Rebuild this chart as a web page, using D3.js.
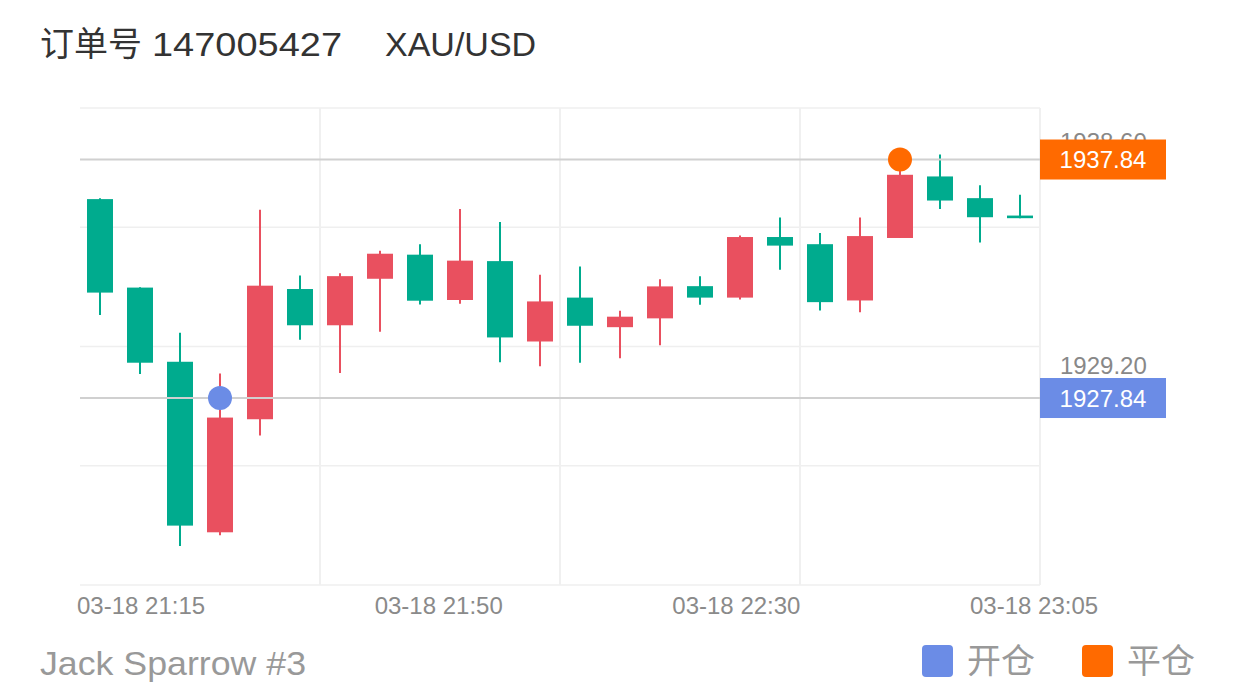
<!DOCTYPE html>
<html>
<head>
<meta charset="utf-8">
<script src="https://cdn.jsdelivr.net/npm/d3@7/dist/d3.min.js"></script>
<style>
  html, body { margin: 0; padding: 0; background: #fff; }
  svg { display: block; font-family: "Liberation Sans", Arial, "Noto Sans CJK SC", sans-serif; }
</style>
</head>
<body>
<svg id="chart" width="1240" height="700"></svg>
<script>
// ---- data ----
const times = ["21:15","21:20","21:25","21:30","21:35","21:40","21:45","21:50","21:55","22:00","22:05","22:10",
               "22:15","22:20","22:25","22:30","22:35","22:40","22:45","22:50","22:55","23:00","23:05","23:10"];
const opens  = [1936.18,1932.47,1929.36,1922.21,1926.95,1932.41,1930.89,1932.84,1933.85,1931.95,1933.58,1930.21,
                1932.05,1930.81,1931.18,1932.53,1932.05,1934.59,1934.29,1931.93,1934.55,1937.13,1936.22,1935.49];
const closes = [1932.26,1929.32,1922.49,1927.02,1932.55,1930.89,1932.95,1933.89,1931.92,1933.60,1930.38,1931.89,
                1930.87,1931.25,1932.52,1932.05,1934.59,1934.23,1931.86,1934.63,1937.20,1936.12,1935.42,1935.38];
const highs  = [1936.22,1932.48,1930.58,1928.87,1935.73,1932.98,1933.07,1934.01,1934.29,1935.76,1935.22,1933.01,
                1933.35,1931.50,1932.82,1932.95,1934.65,1935.41,1934.76,1935.41,1937.84,1938.05,1936.76,1936.36];
const lows   = [1931.32,1928.85,1921.64,1922.09,1926.27,1930.28,1928.89,1930.62,1931.76,1931.79,1929.34,1929.17,
                1929.32,1929.51,1930.05,1931.75,1931.97,1933.22,1931.51,1931.44,1934.55,1935.76,1934.36,1935.38];
const gridValues = [1920, 1925, 1930, 1935, 1940];
const yAxisLabels = [1929.20, 1938.60];
const xTickLabels = ["03-18 21:15", "03-18 21:50", "03-18 22:30", "03-18 23:05"];
const openTrade  = { time: "21:30", price: 1927.84, label: "开仓" };
const closeTrade = { time: "22:55", price: 1937.84, label: "平仓" };
const title = ["订单号", "147005427", "XAU/USD"];
const footer = "Jack Sparrow #3";

const candles = times.map((t, i) => ({ t, o: opens[i], c: closes[i], h: highs[i], l: lows[i] }));

// ---- style ----
const UP = "#e9505f", DOWN = "#00ab8e";
const BLUE = "#6b8ce6", ORANGE = "#ff6a00";

const svg = d3.select("#chart");

const x = d3.scaleBand().domain(times).range([80, 1040]).paddingInner(0.35).paddingOuter(0.175);
const y = d3.scaleLinear().domain([1920, 1940]).range([585, 108]);
const cx = t => x(t) + x.bandwidth() / 2;
const gap = (x.step() - x.bandwidth()) / 2;

// horizontal grid
svg.append("g").selectAll("line").data(gridValues).join("line")
  .attr("x1", 80).attr("x2", 1040)
  .attr("y1", d => y(d)).attr("y2", d => y(d))
  .attr("stroke", "#efefef").attr("stroke-width", 1.5);

// vertical grid at every 6th band boundary plus right edge
const vIdx = [6, 12, 18];
const vPos = vIdx.map(i => x(times[i]) - gap).concat([x.range()[1]]);
svg.append("g").selectAll("line").data(vPos).join("line")
  .attr("x1", d => d).attr("x2", d => d)
  .attr("y1", y(1940)).attr("y2", y(1920))
  .attr("stroke", "#f0f0f0").attr("stroke-width", 2);

// candles
const cg = svg.append("g").selectAll("g").data(candles).join("g");
cg.append("line")
  .attr("x1", d => cx(d.t)).attr("x2", d => cx(d.t))
  .attr("y1", d => y(d.h)).attr("y2", d => y(d.l))
  .attr("stroke", d => d.c >= d.o ? UP : DOWN).attr("stroke-width", 2);
cg.append("rect")
  .attr("x", d => x(d.t)).attr("width", x.bandwidth())
  .attr("y", d => y(Math.max(d.o, d.c)))
  .attr("height", d => Math.max(1.5, Math.abs(y(d.o) - y(d.c))))
  .attr("fill", d => d.c >= d.o ? UP : DOWN);

// y labels (gray); the upper one sits partly behind the close-price tag, as in the reference
svg.append("g").selectAll("text").data(yAxisLabels).join("text")
  .attr("x", 1060).attr("y", d => y(d)).attr("dy", "0.36em")
  .attr("font-size", 24).attr("fill", "#888")
  .text(d => d.toFixed(2));

// trade lines, markers and price tags
[openTrade, closeTrade].forEach((tr, i) => {
  const col = i === 0 ? BLUE : ORANGE;
  svg.append("line")
    .attr("x1", 80).attr("x2", 1040)
    .attr("y1", y(tr.price)).attr("y2", y(tr.price))
    .attr("stroke", "#d0d0d0").attr("stroke-width", 2);
  svg.append("circle")
    .attr("cx", cx(tr.time)).attr("cy", y(tr.price)).attr("r", 12)
    .attr("fill", col);
  svg.append("rect")
    .attr("x", 1040).attr("y", y(tr.price) - 20).attr("width", 126).attr("height", 40)
    .attr("fill", col);
  svg.append("text")
    .attr("x", 1103).attr("y", y(tr.price)).attr("dy", "0.36em")
    .attr("text-anchor", "middle").attr("font-size", 24).attr("fill", "#fff")
    .text(tr.price.toFixed(2));
});

// x tick labels
const xl = d3.scalePoint().domain(xTickLabels).range([77, 970]);
svg.append("g").selectAll("text").data(xTickLabels).join("text")
  .attr("x", d => xl(d)).attr("y", 614)
  .attr("font-size", 24).attr("fill", "#8a8a8a")
  .text(d => d);

// title
const tt = svg.append("text").attr("y", 56).attr("font-size", 34).attr("fill", "#333");
tt.append("tspan").attr("x", 40).attr("font-family", "'Noto Sans CJK SC', sans-serif").text(title[0]);
tt.append("tspan").attr("x", 152).attr("textLength", 190).attr("lengthAdjust", "spacingAndGlyphs").text(title[1]);
tt.append("tspan").attr("x", 385).text(title[2]);

// footer
svg.append("text").attr("x", 40).attr("y", 675)
  .attr("font-size", 34).attr("fill", "#999")
  .attr("textLength", 266).attr("lengthAdjust", "spacingAndGlyphs")
  .text(footer);

// legend
const legend = [openTrade, closeTrade].map((tr, i) => ({ label: tr.label, color: i === 0 ? BLUE : ORANGE, x: i === 0 ? 922 : 1082 }));
const lg = svg.append("g").selectAll("g").data(legend).join("g");
lg.append("rect").attr("x", d => d.x).attr("y", 645).attr("width", 31).attr("height", 32)
  .attr("rx", 4).attr("fill", d => d.color);
lg.append("text").attr("x", d => d.x + 45).attr("y", 673)
  .attr("font-size", 34).attr("fill", "#999")
  .attr("font-family", "'Noto Sans CJK SC', sans-serif")
  .text(d => d.label);
</script>
</body>
</html>
